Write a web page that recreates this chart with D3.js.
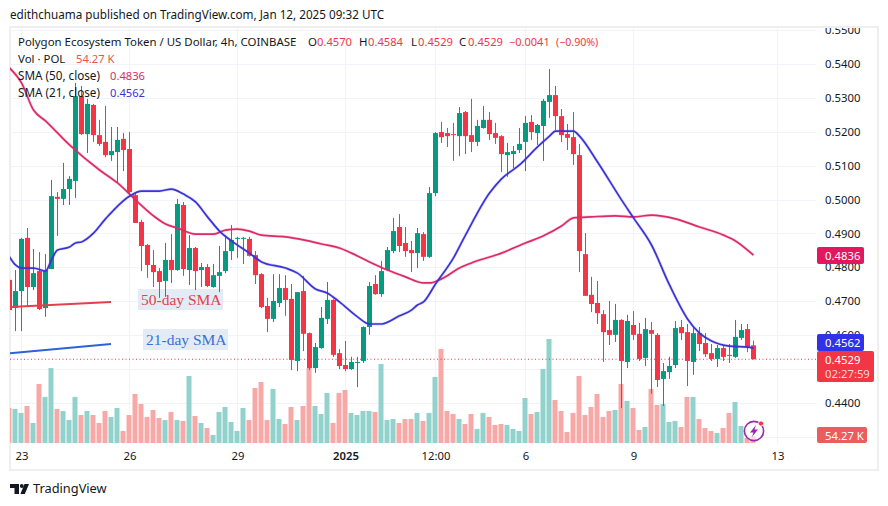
<!DOCTYPE html>
<html><head><meta charset="utf-8">
<style>
html,body{margin:0;padding:0;background:#fff}
svg{display:block}
text{font-family:"Noto Sans",sans-serif}
</style>
<script src="https://cdn.jsdelivr.net/npm/d3@7/dist/d3.min.js"></script>
</head><body>
<svg id="c" width="888" height="506"></svg>
<script>
// prices are in 1/10000 USD; one entry per 4h bar
const opens=[4763,4680,4730,4887,4742,4789,4680,4795,5008,5002,
5031,5055,5305,5193,5279,5190,5170,5131,5140,5179,
5149,5013,4934,4866,4807,4789,4760,4822,4792,4984,
4792,4857,4792,4801,4742,4775,4789,4848,4884,4884,
4884,4836,4780,4686,4648,4695,4739,4707,4524,4730,
4606,4503,4562,4648,4704,4547,4512,4500,4518,4524,
4624,4751,4721,4792,4848,4919,4872,4851,4842,4898,
4831,5019,5199,5196,5193,5187,5258,5190,5170,5211,
5235,5196,5187,5131,5134,5146,5170,5229,5196,5217,
5288,5308,5246,5193,5184,5131,4839,4719,4695,4662,
4615,4601,4645,4521,4630,4604,4533,4615,4601,4471,
4491,4512,4624,4609,4521,4606,4577,4547,4530,4562,
4542,4536,4592,4618,4570];
const highs=[4770,4792,4887,4916,4854,4845,4839,5058,5022,5108,
5069,5344,5335,5297,5282,5235,5276,5214,5214,5196,
5199,5019,4940,4869,4851,4798,4872,4898,5002,4993,
4895,4860,4813,4810,4810,4863,4895,4925,4890,4890,
4890,4848,4783,4710,4780,4780,4777,4751,4727,4775,
4608,4577,4683,4757,4706,4559,4583,4536,4536,4626,
4757,4777,4819,4860,4946,4957,4919,4878,4916,4904,
5037,5199,5229,5211,5226,5273,5261,5297,5235,5276,
5258,5226,5190,5167,5158,5211,5246,5249,5223,5297,
5385,5335,5267,5223,5258,5164,4901,4772,4760,4674,
4701,4692,4647,4660,4671,4636,4651,4639,4606,4518,
4536,4642,4645,4633,4624,4624,4606,4574,4571,4571,
4574,4645,4633,4633,4584];
const lows=[4674,4612,4612,4683,4733,4674,4654,4795,4893,4984,
4984,5005,5190,5137,5170,5158,5125,5114,5049,5084,
5013,4931,4789,4769,4742,4710,4713,4754,4790,4775,
4748,4733,4742,4742,4740,4727,4783,4822,4828,4810,
4832,4751,4680,4609,4639,4683,4657,4497,4494,4553,
4497,4489,4560,4633,4536,4500,4494,4497,4447,4518,
4601,4719,4713,4790,4842,4845,4831,4786,4798,4819,
4828,5010,5167,5155,5114,5128,5134,5140,5158,5209,
5176,5164,5081,5067,5093,5137,5084,5176,5161,5114,
5241,5205,5170,5146,5102,4786,4716,4668,4633,4521,
4571,4580,4385,4503,4586,4524,4509,4427,4447,4391,
4471,4503,4586,4450,4483,4553,4536,4524,4506,4524,
4518,4533,4586,4550,4529];
const closes=[4674,4730,4884,4742,4783,4677,4792,5010,5002,5031,
5061,5305,5193,5282,5190,5164,5131,5143,5176,5146,
5022,4931,4863,4807,4786,4757,4822,4792,4987,4795,
4857,4789,4801,4745,4777,4786,4848,4881,4887,4887,
4834,4777,4683,4648,4701,4739,4704,4527,4727,4604,
4503,4565,4651,4704,4542,4509,4500,4521,4521,4624,
4745,4721,4789,4851,4907,4863,4848,4842,4901,4831,
5019,5196,5184,5187,5190,5255,5187,5170,5217,5235,
5193,5182,5134,5140,5143,5164,5226,5199,5220,5291,
5308,5246,5190,5182,5134,4848,4716,4692,4665,4609,
4601,4645,4524,4642,4601,4530,4618,4604,4468,4494,
4509,4621,4606,4524,4606,4574,4544,4530,4562,4536,
4539,4595,4615,4565,4529];
// volume in thousands of POL
const volumes=[271,264,233,287,155,457,357,581,264,248,
178,357,217,248,217,155,248,202,271,93,
217,380,302,202,256,194,178,240,178,171,
519,209,155,116,62,240,279,163,93,271,
178,426,473,178,419,186,147,279,178,287,
581,287,225,388,155,388,411,233,217,248,
248,240,612,178,186,155,186,186,233,171,
233,512,729,248,225,186,147,225,109,233,
202,140,147,140,109,93,349,225,240,574,
806,333,248,85,233,519,217,279,380,202,
248,256,457,326,271,101,124,419,295,302,
163,171,124,357,357,186,116,93,78,116,
233,318,132,39,54.27];
const sma50Bars=[0,2,4,6,10,15,18,21,24,26,28,31,34,36,38,40,42,46,49,52,55,57,60,63,66,69,70,72,75,77,82,86,89,92,94,97,101,104,107,111,115,119,121,124];
const sma50Values=[5388,5344,5264,5232,5161,5087,5049,4999,4952,4928,4916,4898,4898,4910,4913,4907,4895,4890,4881,4869,4857,4842,4816,4792,4772,4754,4754,4766,4798,4813,4842,4872,4893,4922,4946,4949,4952,4949,4954,4943,4919,4895,4878,4836];
const sma21Bars=[0,1,2,4,6,7,8,10,11,12,14,16,20,22,25,27,29,31,33,35,37,40,42,46,48,51,53,55,58,60,62,65,67,68,69,71,74,76,80,82,85,88,90,91,94,95,98,102,104,107,110,113,115,117,120,123,124];
const sma21Values=[4831,4807,4798,4798,4789,4822,4851,4860,4872,4875,4901,4943,5010,5025,5025,5031,5016,4993,4949,4907,4878,4842,4816,4798,4783,4736,4724,4698,4654,4633,4633,4657,4674,4689,4698,4751,4828,4895,5019,5061,5102,5155,5187,5202,5202,5187,5111,4999,4946,4866,4748,4648,4606,4583,4568,4565,4562];
const priceGrid=[5500,5400,5300,5200,5100,5000,4900,4800,4700,4600,4500,4400,4300];
const priceLabels=[5500,5400,5300,5200,5100,5000,4900,4800,4700,4600,4400];
const timeTickBars=[2,20,38,56,71,86,104,128];
const timeTickLabels=["23","26","29","2025","12:00","6","9","13"];
const note50Bars=[0.17,17], note50Values=[4683,4698];
const note21Bars=[0.17,17], note21Values=[4547,4574];

const GREEN="#089981",RED="#f23645",VGREEN="#92d2cc",VRED="#f7a9a7",GRID="#f0f3fa",PINK="#dd2a68",BLUE="#3a33d6",INK="#131722";
const svg=d3.select("#c");
const x=d3.scaleLinear().domain([0,124]).range([9,753]);
const y=d3.scaleLinear().domain([5500,4400]).range([30,403]);
const v=d3.scaleLinear().domain([0,806]).range([443,339]);
const n=opens.length, bars=d3.range(n);
const clipDefs=svg.append("defs");
clipDefs.append("clipPath").attr("id","plot").append("rect").attr("x",10).attr("y",28).attr("width",806).attr("height",442);
clipDefs.append("clipPath").attr("id","scale").append("rect").attr("x",816).attr("y",28).attr("width",62).attr("height",442);

// frame
svg.append("rect").attr("x",10).attr("y",27).attr("width",868).attr("height",443).attr("fill","#fff").attr("stroke","#efefef").attr("stroke-width",2);

const plot=svg.append("g").attr("clip-path","url(#plot)");
// grid
plot.append("g").selectAll("line").data(priceGrid).join("line")
 .attr("x1",10).attr("x2",816).attr("y1",d=>Math.round(y(d))+.5).attr("y2",d=>Math.round(y(d))+.5).attr("stroke",GRID);
plot.append("g").selectAll("line").data(timeTickBars).join("line")
 .attr("x1",d=>x(d)+.5).attr("x2",d=>x(d)+.5).attr("y1",28).attr("y2",444).attr("stroke",GRID);
// volume
plot.append("g").selectAll("rect").data(bars).join("rect")
 .attr("x",i=>x(i)-2.5).attr("width",5).attr("y",i=>v(volumes[i])).attr("height",i=>v(0)-v(volumes[i]))
 .attr("fill",i=>closes[i]>=opens[i]?VGREEN:VRED);
// annotation boxes
plot.append("rect").attr("x",x(21.5)).attr("y",y(4736)).attr("width",85).attr("height",21).attr("fill","#e3ecf4");
plot.append("rect").attr("x",x(22.33)).attr("y",y(4618)).attr("width",85).attr("height",21).attr("fill","#e3ecf4");
// last price line
plot.append("line").attr("x1",10).attr("x2",816).attr("y1",y(closes[n-1])).attr("y2",y(closes[n-1]))
 .attr("stroke",RED).attr("stroke-dasharray","1 2.5").attr("stroke-width",1);
// candles
const cg=plot.append("g");
cg.selectAll("line").data(bars).join("line")
 .attr("x1",i=>x(i)+.5).attr("x2",i=>x(i)+.5).attr("y1",i=>y(highs[i])).attr("y2",i=>y(lows[i]))
 .attr("stroke",i=>closes[i]>=opens[i]?GREEN:RED).attr("stroke-width",1);
cg.selectAll("rect").data(bars).join("rect")
 .attr("x",i=>x(i)-2).attr("width",5)
 .attr("y",i=>y(Math.max(opens[i],closes[i])))
 .attr("height",i=>Math.max(1,Math.abs(y(opens[i])-y(closes[i]))))
 .attr("fill",i=>closes[i]>=opens[i]?GREEN:RED);
// SMA lines
const smaLine=(bs,vs)=>d3.line().x(i=>x(bs[i])+.5).y(i=>y(vs[i])).curve(d3.curveMonotoneX)(d3.range(bs.length));
plot.append("path").attr("d",smaLine(sma50Bars,sma50Values)).attr("fill","none").attr("stroke",PINK).attr("stroke-opacity",.18).attr("stroke-width",3);
plot.append("path").attr("d",smaLine(sma50Bars,sma50Values)).attr("fill","none").attr("stroke",PINK).attr("stroke-width",1.7);
plot.append("path").attr("d",smaLine(sma21Bars,sma21Values)).attr("fill","none").attr("stroke",BLUE).attr("stroke-opacity",.18).attr("stroke-width",3);
plot.append("path").attr("d",smaLine(sma21Bars,sma21Values)).attr("fill","none").attr("stroke",BLUE).attr("stroke-width",1.7);
// annotations
plot.append("path").attr("d",d3.line().x(i=>x(note50Bars[i])).y(i=>y(note50Values[i]))([0,1])).attr("stroke","#e2404e").attr("stroke-width",2).attr("fill","none");
plot.append("path").attr("d",d3.line().x(i=>x(note21Bars[i])).y(i=>y(note21Values[i]))([0,1])).attr("stroke","#2f62d8").attr("stroke-width",2).attr("fill","none");
plot.append("text").attr("x",x(21.5)+3).attr("y",y(4736)+16).text("50-day SMA").attr("fill","#e0424f").style("font-family","'Liberation Serif',serif").style("font-size","15.5px");
plot.append("text").attr("x",x(22.33)+3).attr("y",y(4618)+16).text("21-day SMA").attr("fill","#3a6fd8").style("font-family","'Liberation Serif',serif").style("font-size","15.5px");

// price axis
const pa=svg.append("g").attr("clip-path","url(#scale)").append("g").attr("transform","translate(816,0)")
 .call(d3.axisRight(y).tickValues(priceLabels).tickSize(0).tickPadding(9).tickFormat(d=>(d/10000).toFixed(4)));
pa.select(".domain").remove();
pa.selectAll("text").attr("fill",INK).style("font-size","11.3px").style("font-family","'Noto Sans',sans-serif");
// time axis
const ta=svg.append("g").attr("transform","translate(0.5,449)")
 .call(d3.axisBottom(x).tickValues(timeTickBars).tickSize(0).tickPadding(3).tickFormat((d,i)=>timeTickLabels[i]));
ta.select(".domain").remove();
ta.selectAll("text").attr("fill",INK).style("font-size","11.3px").style("font-family","'Noto Sans',sans-serif").style("font-weight",d=>d===56?600:400);

// price tags
function tag(yc,w,h,fill,lines){
 const g=svg.append("g");
 g.append("rect").attr("x",817).attr("y",yc-h/2).attr("width",w).attr("height",h).attr("rx",2).attr("fill",fill);
 lines.forEach(l=>g.append("text").attr("x",825).attr("y",l.y).attr("fill",l.c||"#fff").style("font-size","11.3px").text(l.t));
}
const fmt=d=>(d/10000).toFixed(4);
tag(255.5,47,17,"#e2175f",[{t:fmt(sma50Values[sma50Values.length-1]),y:259.7}]);
tag(342.5,47,17,"#3131e6",[{t:fmt(sma21Values[sma21Values.length-1]),y:346.7}]);
tag(366.5,57,31,RED,[{t:fmt(closes[n-1]),y:364},{t:"02:27:59",y:377.5,c:"#ffd5d8"}]);
tag(435,50,16,"#ea5d5c",[{t:"54.27 K",y:440}]);

// header and legend
const T=(px,py,s,fill,size)=>svg.append("text").attr("x",px).attr("y",py).attr("fill",fill||INK).style("font-size",(size||11.45)+"px").text(s);
T(10,19,"edithchuama published on TradingView.com, Jan 12, 2025 09:32 UTC",INK,11.7);
T(18,46,"Polygon Ecosystem Token / US Dollar, 4h, COINBASE");
T(308,46,"O"); T(317,46,"0.4570",RED,11.2);
T(359,46,"H"); T(368,46,"0.4584",RED,11.2);
T(411,46,"L"); T(418,46,"0.4529",RED,11.2);
T(459,46,"C"); T(468,46,"0.4529",RED,11.2);
T(509,46,"−0.0041",RED,11); T(556,46,"(−0.90%)",RED,10.6);
T(18,63,"Vol · POL"); T(76,63,"54.27 K","#e2574f",11.2);
T(18,80,"SMA (50, close)",INK,11.7); T(110,80,"0.4836",PINK,11.2);
T(18,97,"SMA (21, close)",INK,11.7); T(110,97,"0.4562",BLUE,11.2);

// TradingView logo
const logo=svg.append("g").attr("fill","#131722");
logo.append("path").attr("d","M10 484h9v10h-4.5v-6H10z");
logo.append("circle").attr("cx",21.8).attr("cy",486).attr("r",1.9);
logo.append("path").attr("d","M24.5 484H29l-4.2 10h-4.4z");
svg.append("text").attr("x",33).attr("y",493).attr("fill","#131722").style("font-size","12.8px").text("TradingView");

// lightning icon
const ic=svg.append("g").attr("transform","translate(754,431)");
ic.append("circle").attr("r",9.6).attr("fill","#fff").attr("fill-opacity",.6).attr("stroke","#9c27b0").attr("stroke-width",1.6);
ic.append("path").attr("d","M2 -6L-4 1.5H-0.5L-2 6L4 -1.5H0.5Z").attr("fill","#9c27b0");
ic.append("circle").attr("cx",7).attr("cy",-7.5).attr("r",2.6).attr("fill","#f23645").attr("stroke","#fff").attr("stroke-width",.8);
</script>
</body></html>
